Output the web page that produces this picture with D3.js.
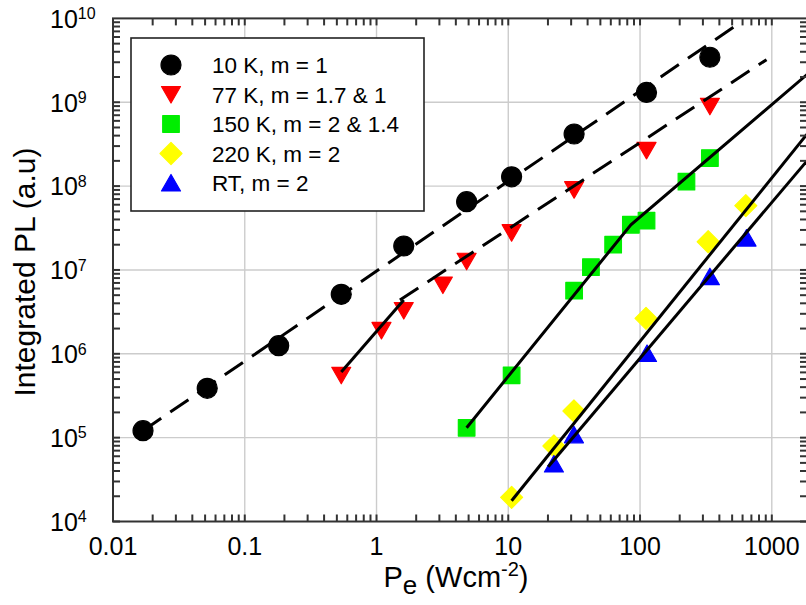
<!DOCTYPE html>
<html>
<head>
<meta charset="utf-8">
<script src="https://cdnjs.cloudflare.com/ajax/libs/d3/7.8.5/d3.min.js"></script>
<style>
  body { margin: 0; background: #fff; }
  svg { font-family: "Liberation Sans", Arial, Helvetica, sans-serif; }
</style>
</head>
<body>
<div id="chart"></div>
<script>
// Legend labels, one per temperature
const seriesLabels = ['10 K, m = 1', '77 K, m = 1.7 & 1', '150 K, m = 2 & 1.4', '220 K, m = 2', 'RT, m = 2'];
const seriesColors = ['#000000', '#ff0000', '#00ee00', '#ffff00', '#0000ff'];
const seriesShapes = ['circle', 'triangleDown', 'square', 'diamond', 'triangleUp'];

// Excitation power density (Wcm-2) and integrated PL (a.u)
const power10K = [0.0169, 0.0519, 0.181, 0.54, 1.61, 4.83, 10.6, 31.6, 112, 339];
const pl10K = [1.21e5, 3.88e5, 1.25e6, 5.12e6, 1.93e7, 6.52e7, 1.29e8, 4.18e8, 1.31e9, 3.44e9];

const power77K = [0.54, 1.09, 1.61, 3.19, 4.83, 10.6, 31.6, 112, 339];
const pl77K = [5.54e5, 1.90e6, 3.28e6, 6.61e6, 1.27e7, 2.78e7, 9.06e7, 2.67e8, 8.95e8];

const power150K = [4.83, 10.6, 31.6, 42.4, 62.5, 85.2, 112, 225, 339];
const pl150K = [1.31e5, 5.54e5, 5.66e6, 1.08e7, 2.0e7, 3.46e7, 3.87e7, 1.13e8, 2.16e8];

const power220K = [10.6, 22.2, 31.5, 111, 329, 635];
const pl220K = [1.94e4, 7.95e4, 2.08e5, 2.65e6, 2.17e7, 5.84e7];

const powerRT = [22.2, 31.5, 113, 339, 643];
const plRT = [4.85e4, 1.08e5, 1.01e6, 8.31e6, 2.40e7];

// Power-law fits: [power, PL] end points
const fit10K = [[0.0169, 1.21e5], [524, 8.05e9]];
const fit77KLow = [[0.54, 6.07e5], [1.61, 4.38e6]];
const fit77KHigh = [[1.505, 4.38e6], [912, 3.22e9]];
const fit150K = [[4.83, 1.31e5], [85.2, 3.46e7], [1850, 2.14e9]];
const fit220K = [[10.6, 1.77e4], [1850, 4.16e8]];
const fitRT = [[20.1, 4.5e4], [1850, 2.0e8]];

const xTickValues = [0.01, 0.1, 1, 10, 100, 1000];
const xTickLabels = ['0.01', '0.1', '1', '10', '100', '1000'];
const yTickExponents = [4, 5, 6, 7, 8, 9, 10];

class PowerPlot {
  constructor(_config) {
    this.config = {
      parentElement: _config.parentElement,
      containerWidth: _config.containerWidth || 806,
      containerHeight: _config.containerHeight || 605,
      plot: { left: 113, right: 807, top: 18.4, bottom: 521.5 }
    }
    this.initVis();
  }

  initVis() {
    let vis = this;
    const p = vis.config.plot;

    vis.svg = d3.select(vis.config.parentElement).append('svg')
      .attr('width', vis.config.containerWidth)
      .attr('height', vis.config.containerHeight);

    vis.xScale = d3.scaleLog().domain([0.01, 1850]).range([p.left, p.right]);
    vis.yScale = d3.scaleLog().domain([1e4, 1e10]).range([p.bottom, p.top]);

    vis.svg.append('clipPath').attr('id', 'plot-clip')
      .append('rect')
      .attr('x', p.left).attr('y', p.top)
      .attr('width', p.right - p.left).attr('height', p.bottom - p.top);
  }

  render() {
    let vis = this;
    vis.renderGrid();
    vis.renderLegendBox();
    vis.renderMarkers();
    vis.renderFits();
    vis.renderAxes();
  }

  renderGrid() {
    let vis = this;
    const p = vis.config.plot;
    const g = vis.svg.append('g').attr('stroke', '#cccccc').attr('stroke-width', 1.4);

    g.selectAll('.xgrid').data(xTickValues.slice(1))
      .join('line')
      .attr('x1', d => vis.xScale(d)).attr('x2', d => vis.xScale(d))
      .attr('y1', p.top).attr('y2', p.bottom);

    g.selectAll('.ygrid').data(yTickExponents.slice(1, -1))
      .join('line')
      .attr('y1', d => vis.yScale(10 ** d)).attr('y2', d => vis.yScale(10 ** d))
      .attr('x1', p.left).attr('x2', p.right);
  }

  symbolPath(shape) {
    // Hand-made marker outlines, centred on the bounding box
    switch (shape) {
      case 'circle': return 'M10,0A10,10 0 1,1 -10,0A10,10 0 1,1 10,0Z';
      case 'triangleDown': return 'M-9.5,-8L9.5,-8L0,8.5Z';
      case 'triangleUp': return 'M-9.5,8L9.5,8L0,-8.5Z';
      case 'square': return 'M-8.3,-8.3H8.3V8.3H-8.3Z';
      case 'diamond': return 'M0,-11L11,0L0,11L-11,0Z';
    }
  }

  renderMarkers() {
    let vis = this;
    const sets = [
      [power10K, pl10K], [power77K, pl77K], [power150K, pl150K], [power220K, pl220K], [powerRT, plRT]
    ];
    sets.forEach((s, i) => {
      const pts = s[0].map((x, j) => ({ x: x, y: s[1][j] }));
      vis.svg.append('g')
        .selectAll('path').data(pts)
        .join('path')
        .attr('d', vis.symbolPath(seriesShapes[i]))
        .attr('transform', d => `translate(${vis.xScale(d.x)},${vis.yScale(d.y)})`)
        .attr('fill', seriesColors[i])
        .attr('stroke', seriesColors[i])
        .attr('stroke-width', 1.2)
        .attr('stroke-linejoin', 'round');
    });
  }

  renderFits() {
    let vis = this;
    const line = d3.line().x(d => vis.xScale(d[0])).y(d => vis.yScale(d[1]));
    const fits = [
      { pts: fit10K, dash: '22,11' },
      { pts: fit77KLow, dash: null },
      { pts: fit77KHigh, dash: '22,11' },
      { pts: fit150K, dash: null },
      { pts: fit220K, dash: null },
      { pts: fitRT, dash: null }
    ];
    vis.svg.append('g').attr('clip-path', 'url(#plot-clip)')
      .selectAll('path').data(fits)
      .join('path')
      .attr('d', d => line(d.pts))
      .attr('fill', 'none')
      .attr('stroke', '#000')
      .attr('stroke-width', 3)
      .attr('stroke-dasharray', d => d.dash);
  }

  renderLegendBox() {
    let vis = this;
    const lg = vis.svg.append('g');
    lg.append('rect')
      .attr('x', 131).attr('y', 38).attr('width', 293).attr('height', 173)
      .attr('fill', '#fff').attr('stroke', '#222').attr('stroke-width', 1.6);

    const rows = lg.selectAll('.row').data(seriesLabels)
      .join('g')
      .attr('transform', (d, i) => `translate(171,${65 + i * 29.5})`);

    rows.append('path')
      .attr('d', (d, i) => vis.symbolPath(seriesShapes[i]))
      .attr('fill', (d, i) => seriesColors[i])
      .attr('stroke', (d, i) => seriesColors[i])
      .attr('stroke-width', 1.2)
      .attr('stroke-linejoin', 'round');

    rows.append('text')
      .attr('x', 41).attr('dy', '0.36em')
      .attr('font-size', 22.5)
      .text(d => d);
  }

  renderAxes() {
    let vis = this;
    const p = vis.config.plot;
    const tickLen = 7;
    const ax = vis.svg.append('g').attr('stroke', '#333').attr('stroke-width', 2);

    // Minor + major log ticks, pointing into the plot on all four sides
    let xTicks = [];
    for (let e = -2; e <= 3; e++) {
      for (let k = 1; k <= 9; k++) {
        const v = k * 10 ** e;
        if (v <= 1850) xTicks.push(v);
      }
    }
    let yTicks = [];
    for (let e = 4; e <= 9; e++) {
      for (let k = 1; k <= 9; k++) yTicks.push(k * 10 ** e);
    }

    ax.selectAll('.xb').data(xTicks).join('line')
      .attr('x1', d => vis.xScale(d)).attr('x2', d => vis.xScale(d))
      .attr('y1', p.bottom).attr('y2', p.bottom - tickLen);
    ax.selectAll('.xt').data(xTicks).join('line')
      .attr('x1', d => vis.xScale(d)).attr('x2', d => vis.xScale(d))
      .attr('y1', p.top).attr('y2', p.top + tickLen);
    ax.selectAll('.yl').data(yTicks).join('line')
      .attr('y1', d => vis.yScale(d)).attr('y2', d => vis.yScale(d))
      .attr('x1', p.left).attr('x2', p.left + tickLen);
    ax.selectAll('.yr').data(yTicks).join('line')
      .attr('y1', d => vis.yScale(d)).attr('y2', d => vis.yScale(d))
      .attr('x1', p.right).attr('x2', p.right - tickLen);

    ax.append('rect')
      .attr('x', p.left).attr('y', p.top)
      .attr('width', p.right - p.left).attr('height', p.bottom - p.top)
      .attr('fill', 'none');

    // Tick labels
    vis.svg.append('g').selectAll('text').data(xTickValues)
      .join('text')
      .attr('x', d => vis.xScale(d))
      .attr('y', 555)
      .attr('text-anchor', 'middle')
      .attr('font-size', 25)
      .text((d, i) => xTickLabels[i]);

    const yl = vis.svg.append('g').selectAll('text').data(yTickExponents)
      .join('text')
      .attr('x', 50)
      .attr('y', d => vis.yScale(10 ** d) + 9.3)
      .attr('font-size', 25);
    yl.append('tspan').text('10');
    yl.append('tspan').attr('dy', -8.5).attr('font-size', 16).text(d => d);

    // Axis titles
    vis.svg.append('text')
      .attr('transform', 'translate(35,272) rotate(-90)')
      .attr('text-anchor', 'middle')
      .attr('font-size', 30)
      .text('Integrated PL (a.u)');

    const xt = vis.svg.append('text')
      .attr('x', 456).attr('y', 587)
      .attr('text-anchor', 'middle')
      .attr('font-size', 29);
    xt.append('tspan').text('P');
    xt.append('tspan').attr('dy', 7).attr('font-size', 26).text('e');
    xt.append('tspan').attr('dy', -7).text(' (Wcm');
    xt.append('tspan').attr('dy', -11).attr('font-size', 20).text('-2');
    xt.append('tspan').attr('dy', 11).text(')');
  }
}

let plot = new PowerPlot({ parentElement: '#chart' });
plot.render();
</script>
</body>
</html>
